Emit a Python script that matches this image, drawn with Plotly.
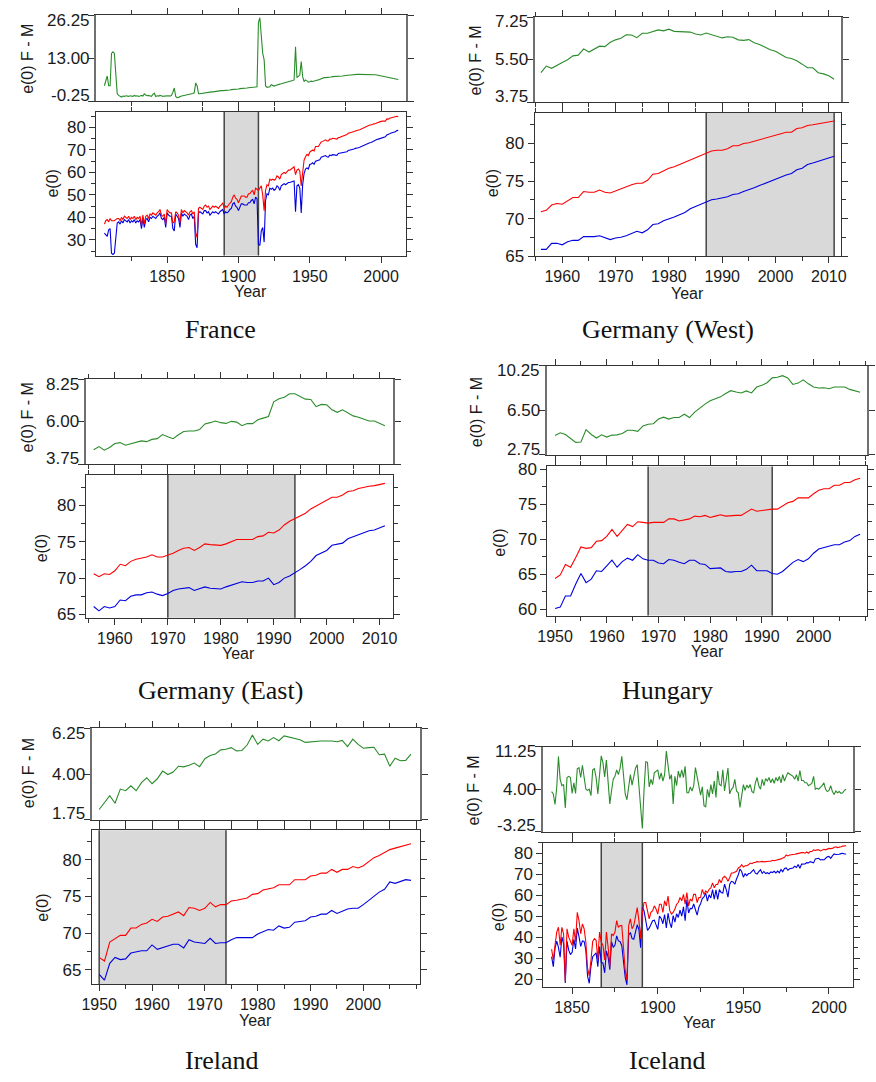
import math
import plotly.graph_objects as go

W, H = 876, 1082

# ---------------- DATA ----------------
# France
fr_start = 1806
fr_female = [37.0, 38.5, 39.0, 38.0, 39.5, 38.5, 38.5, 38.5, 39.0, 39.5,
             39.5, 38.5, 40.0, 39.0, 40.5, 40.0, 39.5, 40.5, 39.0, 40.0, 39.5, 40.5, 39.0, 40.0, 39.5,
             40.5, 36.5, 41.0, 37.0, 40.5, 41.0, 39.5, 41.5, 41.0, 42.0, 41.5, 41.0, 42.0, 42.5, 43.5, 41.0, 40.5, 41.5, 37.0,
             43.5, 42.5, 42.0, 42.0, 37.5, 38.0, 42.5, 42.0, 41.0, 37.5, 43.5, 42.0, 43.0, 42.5, 42.0, 41.0, 42.5, 43.0, 41.5, 42.5,
             33.0, 31.0, 44.0, 44.5, 44.0, 43.5, 45.0, 45.5, 44.5, 45.0, 43.5, 44.5, 45.0, 44.5, 45.0, 44.5, 44.0, 45.0, 45.5, 46.5,
             44.0, 45.0, 44.5, 45.5, 46.5, 47.0, 49.0, 50.0, 48.5, 48.0, 46.5, 48.5, 49.5, 49.5, 49.5, 49.0, 49.0, 50.5, 50.5, 51.5, 52.0, 50.0, 53.0, 52.5,
             52.0, 53.0, 54.0, 50.0, 43.0, 52.0, 54.5,
             54.0, 57.0, 56.5, 57.0, 56.5, 57.0, 58.5, 58.0, 57.0, 59.0, 59.5, 60.0, 59.5, 60.5, 61.0, 61.0, 61.5, 62.0, 62.5,
             59.0, 61.0, 61.5, 60.5, 54.0, 61.5, 65.5, 67.0, 68.0, 67.5,
             69.0, 69.5, 70.0, 69.5, 71.5, 71.5, 71.5, 72.5, 73.5, 73.8,
             74.0, 74.5, 74.0, 74.0, 74.8, 74.8, 75.2, 75.0, 75.0, 74.8,
             75.5, 75.5, 75.9, 76.1, 76.4, 76.7, 76.9, 77.4, 77.5, 77.8,
             78.0, 78.2, 78.5, 78.6, 78.9, 79.0, 79.3, 79.8, 80.0, 80.2,
             80.5, 80.8, 81.1, 81.1, 81.5, 81.6, 81.8, 82.1, 82.3, 82.4,
             82.7, 82.8, 82.9, 82.8, 83.8, 83.7, 84.1, 84.3, 84.3, 84.4,
             84.6, 85.0, 84.8]
fr_male = [33.0, 32.0, 31.5, 34.5, 35.0, 24.0, 23.5, 24.0, 31.0, 37.5,
           38.0, 37.0, 38.5, 37.5, 39.0, 38.5, 38.0, 39.0, 37.5, 38.5, 38.0, 39.0, 37.5, 38.5, 38.0,
           39.0, 35.0, 39.5, 35.5, 39.0, 39.5, 38.0, 40.0, 39.5, 40.5, 40.0, 39.5, 40.5, 41.0, 42.0, 39.5, 39.0, 40.0, 35.5,
           42.0, 41.0, 40.5, 40.5, 35.0, 34.0, 41.5, 40.5, 39.5, 35.5, 42.0, 40.5, 41.5, 41.0, 40.5, 39.0, 41.0, 41.5, 39.5, 40.5,
           28.0, 26.5, 42.0, 42.5, 42.0, 41.5, 43.0, 43.0, 42.0, 42.5, 41.0, 42.0, 42.5, 42.0, 42.5, 42.0, 41.5, 42.5, 43.0, 43.5,
           41.5, 42.5, 42.0, 42.5, 43.5, 44.0, 46.0, 46.5, 45.0, 44.5, 43.0, 45.0, 46.0, 46.0, 45.5, 45.5, 45.5, 46.5, 46.5, 47.5, 48.0, 46.0, 49.0, 48.3,
           28.0, 27.5, 34.0, 35.5, 29.0, 47.5, 50.5,
           50.0, 53.0, 52.5, 53.0, 52.0, 52.5, 54.0, 53.5, 52.0, 54.0, 54.5, 55.0, 54.5, 55.0, 55.5, 55.5, 55.8, 56.0, 56.2,
           42.5, 54.0, 54.5, 53.0, 42.0, 54.5, 59.5, 61.5, 62.0, 61.5,
           63.5, 63.7, 64.3, 63.6, 65.0, 65.2, 65.2, 65.6, 66.8, 67.0,
           67.0, 67.5, 67.0, 66.8, 67.7, 67.5, 67.9, 67.8, 67.8, 67.6,
           68.4, 68.5, 68.6, 68.7, 69.0, 69.0, 69.2, 69.7, 69.8, 70.1,
           70.2, 70.4, 70.7, 70.7, 71.0, 71.2, 71.5, 72.0, 72.3, 72.5,
           72.7, 72.9, 73.2, 73.3, 73.7, 73.9, 74.2, 74.6, 74.8, 75.0,
           75.3, 75.5, 75.7, 75.8, 76.7, 76.8, 77.2, 77.5, 77.6, 77.8,
           78.1, 78.6, 78.7]
fr_gap = [4.5, 6.0, 7.5, 4.5, 4.5, 14.5, 15.0, 14.5, 8.0, 2.0,
          1.5, 1.2, 1.0, 1.3, 1.2, 1.4, 1.3, 1.2, 1.4, 1.3, 1.2, 1.5, 1.3, 1.4, 1.2,
          1.3, 1.5, 1.3, 2.0, 1.6, 1.4, 1.5, 1.3, 1.2, 1.8, 2.2, 1.2, 1.4, 1.3, 1.5, 1.4, 1.2, 1.3, 1.4,
          1.5, 1.4, 1.3, 1.5, 2.5, 3.8, 1.2, 0.8, 0.9, 1.2, 1.3, 1.4, 1.5, 1.6, 1.5, 1.8, 1.9, 2.0, 2.1, 2.3,
          5.3, 4.5, 2.0, 2.0, 2.1, 2.2, 2.2, 2.3, 2.4, 2.5, 2.5, 2.6, 2.6, 2.7, 2.7, 2.8, 2.8, 2.9, 3.0, 3.0,
          3.0, 3.1, 3.1, 3.2, 3.2, 3.3, 3.3, 3.4, 3.4, 3.5, 3.5, 3.6, 3.6, 3.7, 3.7, 3.8, 3.8, 3.9, 3.9, 4.0, 4.0, 4.1, 4.1, 4.2,
          24.0, 25.5, 20.0, 14.5, 12.5, 4.5, 4.0,
          4.0, 4.2, 4.8, 4.5, 4.4, 4.6, 4.8, 5.0, 5.0, 5.1, 5.2, 5.3, 5.5, 5.6, 5.7, 5.8, 6.0, 6.1, 6.3,
          16.5, 7.0, 7.5, 7.8, 12.0, 7.3, 5.8, 6.3, 6.0, 5.6,
          5.7, 5.9, 5.8, 6.0, 6.1, 6.2, 6.3, 6.5, 6.6, 6.8,
          7.0, 7.0, 7.0, 7.1, 7.1, 7.2, 7.3, 7.3, 7.3, 7.3,
          7.3, 7.4, 7.4, 7.5, 7.6, 7.7, 7.7, 7.7, 7.8, 7.8,
          7.9, 8.0, 8.0, 8.0, 8.0, 8.0, 8.0, 8.0, 8.1, 8.1,
          8.1, 8.1, 8.1, 8.1, 8.0, 8.0, 7.9, 7.8, 7.7, 7.6,
          7.5, 7.4, 7.3, 7.2, 7.1, 7.0, 6.9, 6.8, 6.8, 6.7,
          6.6, 6.5, 6.4]
fr_shade = [1890, 1914]

# Germany (West)
gw_start = 1956
gw_female = [70.9, 71.1, 71.8, 72.0, 71.9, 72.4, 72.8, 72.8, 73.6, 73.5,
             73.5, 73.8, 73.5, 73.4, 73.7, 73.9, 74.2, 74.5, 74.7, 74.7,
             75.1, 75.9, 76.0, 76.4, 76.7, 76.9, 77.2, 77.5, 77.9, 78.2,
             78.4, 78.8, 79.0, 79.1, 79.1, 79.3, 79.7, 79.7, 80.0, 80.1,
             80.3, 80.6, 80.8, 81.0, 81.2, 81.4, 81.5, 81.5, 82.0, 82.1,
             82.4, 82.5, 82.6, 82.7, 82.8, 83.0]
gw_male = [65.9, 65.9, 66.7, 66.7, 66.5, 66.9, 67.1, 67.1, 67.6, 67.6,
           67.6, 67.7, 67.4, 67.2, 67.4, 67.5, 67.7, 68.0, 68.3, 68.1,
           68.5, 69.2, 69.3, 69.7, 69.9, 70.2, 70.5, 70.8, 71.3, 71.6,
           71.9, 72.2, 72.5, 72.6, 72.7, 72.9, 73.2, 73.3, 73.6, 73.8,
           74.1, 74.4, 74.7, 75.0, 75.3, 75.6, 75.8, 76.0, 76.5, 76.7,
           77.2, 77.4, 77.6, 77.8, 78.0, 78.3]
gw_gap = [4.96, 5.23, 5.14, 5.27, 5.38, 5.49, 5.65, 5.68, 5.94, 5.81,
          5.94, 6.05, 6.03, 6.21, 6.31, 6.38, 6.52, 6.51, 6.40, 6.58,
          6.58, 6.64, 6.72, 6.68, 6.75, 6.66, 6.64, 6.64, 6.63, 6.55,
          6.51, 6.59, 6.52, 6.46, 6.39, 6.44, 6.42, 6.31, 6.29, 6.32,
          6.19, 6.12, 6.01, 5.90, 5.84, 5.72, 5.58, 5.54, 5.45, 5.31,
          5.16, 5.16, 4.96, 4.91, 4.83, 4.69]
gw_shade = [1987, 2011]

# Germany (East)
ge_start = 1956
ge_female = [70.6, 70.2, 70.6, 70.5, 71.0, 71.9, 71.7, 72.3, 72.6, 72.7,
             72.9, 73.2, 72.9, 72.9, 73.1, 73.4, 73.8, 74.1, 74.2, 73.8,
             74.2, 74.7, 74.6, 74.6, 74.5, 74.7, 75.0, 75.3, 75.3, 75.3,
             75.3, 75.7, 75.8, 76.3, 76.2, 76.6, 77.3, 77.8, 78.2, 78.6,
             78.9, 79.5, 79.9, 80.4, 80.7, 81.1, 81.1, 81.4, 81.9, 82.0,
             82.3, 82.5, 82.6, 82.7, 82.8, 83.0]
ge_male = [66.1, 65.5, 66.1, 65.9, 66.1, 67.0, 66.9, 67.5, 67.7, 67.7,
           68.0, 68.1, 67.8, 67.6, 67.9, 68.3, 68.5, 68.6, 68.7, 68.3,
           68.6, 68.8, 68.6, 68.6, 68.5, 68.8, 69.0, 69.3, 69.5, 69.4,
           69.4, 69.6, 69.6, 70.0, 69.1, 69.4, 70.0, 70.3, 70.7, 71.2,
           71.7, 72.3, 73.1, 73.5, 73.8, 74.5, 74.6, 74.8, 75.4, 75.7,
           76.0, 76.3, 76.5, 76.6, 76.9, 77.2]
ge_gap = [4.52, 4.69, 4.50, 4.64, 4.85, 4.90, 4.76, 4.85, 4.92, 4.99,
          4.95, 5.07, 5.11, 5.33, 5.21, 5.11, 5.32, 5.49, 5.52, 5.52,
          5.59, 5.89, 5.96, 6.05, 5.96, 5.92, 6.03, 5.99, 5.80, 5.91,
          5.91, 6.11, 6.20, 6.29, 7.07, 7.23, 7.31, 7.50, 7.50, 7.36,
          7.21, 7.19, 6.81, 6.93, 6.91, 6.64, 6.51, 6.64, 6.50, 6.32,
          6.25, 6.17, 6.05, 6.05, 5.94, 5.80]
ge_shade = [1970, 1994]

# Hungary
hu_start = 1950
hu_female = [64.4, 64.9, 66.4, 66.0, 67.4, 68.9, 68.7, 68.8, 69.7, 69.8,
             70.4, 71.4, 70.4, 71.3, 72.1, 71.8, 72.5, 72.4, 72.3, 72.4,
             72.4, 72.4, 72.9, 72.9, 72.6, 72.7, 72.9, 73.3, 73.2, 73.4,
             73.1, 73.3, 73.5, 73.3, 73.4, 73.4, 73.4, 73.8, 74.3, 74.0,
             74.1, 74.3, 74.3, 74.3, 74.8, 75.2, 75.4, 75.9, 75.9, 75.9,
             76.5, 77.0, 77.2, 77.2, 77.7, 77.7, 78.1, 78.1, 78.5, 78.7]
hu_male = [60.1, 60.3, 61.9, 61.9, 63.6, 65.1, 63.8, 64.3, 65.5, 65.4,
           66.2, 67.0, 66.0, 66.8, 67.3, 67.0, 67.8, 67.2, 67.0, 67.0,
           66.6, 66.5, 67.1, 67.0, 66.7, 66.5, 67.0, 67.0, 66.5, 66.4,
           65.8, 65.8, 65.9, 65.4, 65.3, 65.4, 65.4, 65.7, 66.3, 65.5,
           65.5, 65.5, 65.1, 65.0, 65.4, 66.0, 66.7, 67.1, 66.8, 67.2,
           68.0, 68.6, 68.8, 68.9, 69.2, 69.2, 69.6, 69.8, 70.4, 70.7]
hu_gap = [4.38, 4.60, 4.46, 4.13, 3.80, 3.83, 4.87, 4.46, 4.16, 4.43,
          4.24, 4.41, 4.43, 4.54, 4.82, 4.82, 4.73, 5.18, 5.32, 5.37,
          5.76, 5.92, 5.76, 5.89, 5.89, 6.17, 5.89, 6.34, 6.72, 7.02,
          7.30, 7.47, 7.63, 7.91, 8.15, 8.04, 7.96, 8.13, 7.96, 8.46,
          8.60, 8.82, 9.23, 9.29, 9.42, 9.23, 8.68, 8.79, 9.06, 8.73,
          8.46, 8.38, 8.40, 8.32, 8.46, 8.46, 8.46, 8.26, 8.15, 8.02]
hu_shade = [1968, 1992]

# Ireland
ie_start = 1950
ie_female = [66.7, 66.2, 68.8, 69.3, 69.7, 69.7, 70.7, 70.7, 71.2, 71.4,
             71.9, 71.6, 72.2, 72.3, 72.6, 72.9, 72.4, 73.5, 73.4, 73.1,
             73.4, 74.2, 73.6, 73.9, 73.9, 74.4, 74.5, 74.6, 74.8, 75.3,
             75.4, 75.9, 76.1, 76.2, 76.6, 76.6, 76.6, 77.3, 77.3, 77.3,
             77.8, 77.9, 78.2, 78.2, 78.7, 78.3, 78.7, 78.7, 79.1, 78.9,
             79.2, 79.8, 80.3, 80.6, 81.0, 81.4, 81.6, 81.8, 82.0, 82.2]
ie_male = [64.4, 63.6, 65.9, 66.7, 66.4, 66.5, 67.3, 67.5, 67.6, 67.6,
           68.4, 67.8, 68.0, 68.3, 68.5, 68.5, 68.0, 69.1, 68.8, 68.7,
           68.6, 69.3, 68.6, 68.7, 68.7, 69.1, 69.4, 69.4, 69.4, 69.4,
           69.9, 70.2, 70.5, 70.4, 71.0, 70.7, 70.8, 71.5, 71.6, 71.7,
           72.2, 72.3, 72.6, 72.6, 73.1, 72.7, 73.0, 73.3, 73.4, 73.4,
           73.9, 74.5, 75.0, 75.6, 76.0, 77.0, 76.8, 77.1, 77.3, 77.2]
ie_gap = [2.25, 2.61, 2.93, 2.56, 3.26, 3.18, 3.42, 3.18, 3.58, 3.82,
          3.53, 3.77, 4.15, 3.98, 4.10, 4.39, 4.36, 4.44, 4.55, 4.37,
          4.76, 4.92, 5.00, 5.20, 5.23, 5.31, 5.15, 5.17, 5.44, 5.93,
          5.47, 5.73, 5.64, 5.81, 5.65, 5.89, 5.83, 5.76, 5.70, 5.57,
          5.60, 5.64, 5.64, 5.64, 5.64, 5.60, 5.67, 5.36, 5.73, 5.47,
          5.28, 5.31, 5.33, 4.96, 4.99, 4.39, 4.79, 4.66, 4.68, 4.99]
ie_shade = [1950, 1974]

# Iceland
is_start = 1838
is_female = [34.3, 29.1, 36.1, 42.4, 44.7, 36.1, 44.7, 41.6, 18.9, 44.0,
             40.0, 37.7, 36.1, 44.0, 37.7, 51.8, 47.9, 41.6, 46.3, 44.0,
             37.7, 25.2, 21.5, 29.1, 38.0, 39.3, 38.5, 29.1, 42.4, 37.7,
             36.1, 29.1, 42.4, 35.3, 26.0, 41.6, 40.8, 42.4, 47.9, 44.7,
             45.5, 45.5, 33.8, 24.0, 19.5, 45.5, 48.7, 44.0, 45.5, 50.2,
             54.1, 47.9, 39.3, 51.5, 56.5, 56.5, 51.8, 48.7, 51.8, 52.6,
             54.9, 53.4, 51.0, 55.7, 55.7, 51.8, 57.3, 54.9, 59.6, 52.6,
             51.0, 51.8, 53.4, 55.7, 56.5, 58.9, 57.3, 60.4, 55.7, 61.2,
             54.9, 58.1, 57.3, 60.4, 60.4, 56.5, 58.9, 58.9, 62.8, 60.4,
             62.0, 61.2, 62.8, 63.5, 65.9, 63.5, 65.1, 65.1, 67.5, 65.9,
             68.3, 69.0, 68.3, 66.7, 68.3, 70.6, 70.6, 70.9, 71.4, 73.0,
             73.4, 74.5, 73.4, 74.0, 74.0, 74.5, 75.3, 75.0, 75.6, 75.6,
             76.1, 75.8, 76.1, 76.1, 75.9, 76.1, 76.1, 76.2, 76.2, 76.6,
             76.4, 76.6, 76.9, 76.9, 77.3, 77.7, 78.1, 79.2, 78.7, 79.2,
             79.2, 79.2, 79.5, 79.7, 80.0, 80.0, 80.3, 80.3, 80.0, 80.6,
             80.0, 80.8, 80.8, 81.6, 81.3, 81.6, 81.6, 81.1, 81.6, 81.9,
             81.6, 81.9, 82.3, 82.2, 82.3, 82.8, 83.1, 82.7, 83.1, 83.1,
             83.4, 83.4, 83.6]
is_male = [30.7, 25.9, 34.7, 38.1, 35.1, 30.4, 40.1, 36.8, 18.1, 38.0,
           33.8, 31.7, 32.8, 38.9, 34.4, 44.3, 40.2, 35.6, 38.2, 38.0,
           33.7, 21.4, 18.0, 26.2, 30.7, 31.8, 32.5, 25.9, 35.5, 28.0,
           27.6, 23.0, 33.4, 30.5, 24.5, 37.9, 35.1, 36.2, 40.6, 38.2,
           37.9, 35.9, 28.1, 20.8, 17.3, 40.9, 42.2, 39.3, 39.0, 42.6,
           45.9, 43.6, 35.0, 54.2, 52.5, 47.8, 43.2, 44.3, 46.1, 47.8,
           48.1, 46.3, 43.7, 50.0, 48.9, 46.4, 50.8, 44.4, 51.4, 46.9,
           44.5, 50.3, 47.2, 51.1, 49.4, 52.9, 50.0, 54.4, 47.8, 57.8,
           51.5, 53.7, 53.6, 55.8, 52.7, 50.5, 54.3, 55.9, 58.4, 59.2,
           61.0, 57.2, 60.2, 58.7, 62.7, 58.1, 62.5, 58.0, 62.7, 61.3,
           61.0, 65.3, 62.6, 59.1, 65.1, 66.6, 66.3, 65.2, 67.7, 69.6,
           72.5, 71.3, 68.6, 70.2, 69.3, 70.3, 70.5, 71.4, 72.2, 70.5,
           70.1, 71.2, 72.1, 70.4, 71.3, 70.3, 70.7, 70.2, 71.1, 70.8,
           71.4, 70.6, 71.5, 70.7, 72.2, 71.2, 72.7, 73.0, 71.9, 72.6,
           72.8, 73.0, 73.8, 73.2, 74.6, 72.8, 74.8, 74.8, 74.9, 75.5,
           75.4, 76.0, 75.8, 75.4, 77.3, 77.4, 77.6, 76.8, 77.0, 76.8,
           77.6, 78.3, 78.5, 77.6, 78.7, 79.7, 79.4, 79.3, 79.5, 79.8,
           80.0, 79.6, 79.6]
is_gap = [3.6, 3.2, 1.4, 4.3, 9.6, 5.7, 4.6, 4.8, 0.8, 6.0,
          6.2, 6.0, 3.3, 5.1, 3.3, 7.5, 7.7, 6.0, 8.1, 6.0,
          4.0, 3.8, 4.0, 2.9, 7.3, 7.5, 6.0, 3.2, 6.9, 9.7,
          8.5, 6.1, 9.0, 4.8, 1.5, 3.7, 5.7, 6.2, 7.3, 6.5,
          7.6, 9.6, 5.7, 3.2, 2.2, 4.6, 6.5, 4.7, 6.5, 7.6,
          8.2, 4.3, 0.9, -2.7, 4.0, 8.7, 8.6, 4.4, 5.7, 4.8,
          6.8, 7.1, 7.3, 5.7, 6.8, 5.4, 6.5, 10.5, 8.2, 5.7,
          6.5, 1.5, 6.2, 4.6, 7.1, 6.0, 7.3, 6.0, 7.9, 3.4,
          3.4, 4.4, 3.7, 4.6, 7.7, 6.0, 4.6, 3.0, 4.4, 1.2,
          1.0, 4.0, 2.6, 4.8, 3.2, 5.4, 2.6, 7.1, 4.8, 4.6,
          7.3, 3.7, 5.7, 7.6, 3.2, 4.0, 4.3, 5.7, 3.7, 3.4,
          0.9, 3.2, 4.8, 3.8, 4.7, 4.2, 4.8, 3.6, 3.4, 5.1,
          6.0, 4.6, 4.0, 5.7, 4.6, 5.8, 5.4, 6.0, 5.1, 5.8,
          5.0, 6.0, 5.4, 6.2, 5.1, 6.5, 5.4, 6.2, 6.8, 6.6,
          6.4, 6.2, 5.7, 6.5, 5.4, 7.2, 5.5, 5.5, 5.1, 5.1,
          4.6, 4.8, 5.0, 6.2, 4.0, 4.2, 4.0, 4.3, 4.6, 5.1,
          4.0, 3.6, 3.8, 4.6, 3.6, 3.1, 3.7, 3.4, 3.6, 3.3,
          3.4, 3.8, 4.0]
is_shade = [1867, 1891]

country_names = ["France", "Germany (West)", "Germany (East)", "Hungary", "Ireland", "Iceland"]

# ---------------- LAYOUT / STYLE ----------------
# pixel boxes: x0, x1, top_y0, top_y1, bot_y0, bot_y1
panels = [
    dict(name=country_names[0], start=fr_start, f=fr_female, m=fr_male, g=fr_gap, shade=fr_shade,
         box=(88, 403, 9.3, 96.7, 107.3, 253.3), xr=(1800.4, 2017.2), xd=50, xm=25,
         gt=(-0.25, 13.0, 26.25), br=(23.0, 87.0), yd=10, ym=5,
         ylab1=(18, 54), ylab2=(43, 180), year=(245, 290), title=(214, 328)),
    dict(name=country_names[1], start=gw_start, f=gw_female, m=gw_male, g=gw_gap, shade=gw_shade,
         box=(534.3, 846, 11, 97.7, 108.3, 254), xr=(1954.8, 2012.2), xd=10, xm=5,
         gt=(3.75, 5.5, 7.25), br=(64.98, 84.1), yd=5, ym=2.5,
         ylab1=(474, 55), ylab2=(491, 180), year=(690, 292), title=(670, 328)),
    dict(name=country_names[2], start=ge_start, f=ge_female, m=ge_male, g=ge_gap, shade=ge_shade,
         box=(77.7, 390, 379, 465.3, 475.7, 621), xr=(1954.6, 2012.5), xd=10, xm=5,
         gt=(3.75, 6.0, 8.25), br=(64.55, 84.2), yd=5, ym=2.5,
         ylab1=(18, 418), ylab2=(32, 550), year=(233, 657), title=(214, 695)),
    dict(name=country_names[3], start=hu_start, f=hu_female, m=hu_male, g=hu_gap, shade=hu_shade,
         box=(547.3, 873.3, 365, 455.7, 467.3, 618.7), xr=(1948.5, 2010.4), xd=10, xm=5,
         gt=(2.75, 6.5, 10.25), br=(59.1, 80.4), yd=5, ym=2.5,
         ylab1=(476, 412), ylab2=(499, 545), year=(710, 655), title=(670, 695)),
    dict(name=country_names[4], start=ie_start, f=ie_female, m=ie_male, g=ie_gap, shade=ie_shade,
         box=(83.3, 417.3, 733.3, 826, 836.7, 992.7), xr=(1948.6, 2010.65), xd=10, xm=5,
         gt=(1.75, 4.0, 6.25), br=(63.07, 84.03), yd=5, ym=2.5,
         ylab1=(19, 779), ylab2=(33, 915), year=(250, 1030), title=(216, 1070)),
    dict(name=country_names[5], start=is_start, f=is_female, m=is_male, g=is_gap, shade=is_shade,
         box=(543.3, 858.3, 751.7, 838.3, 849.3, 996), xr=(1833.2, 2013.8), xd=50, xm=25,
         gt=(-3.25, 4.0, 11.25), br=(16.1, 85.0), yd=10, ym=5,
         ylab1=(472, 796), ylab2=(497, 925), year=(702, 1032), title=(670, 1070)),
]

AX = '#333333'
SANS = 'Liberation Sans, Arial, sans-serif'
XTICKFONT = dict(family=SANS, size=16, color='#1a1a1a')
YTICKFONT = dict(family=SANS, size=17, color='#1a1a1a')
RED, BLUE, GREEN = '#ff0000', '#0000e0', '#2a8c2a'


def ref(n, kind):
    return kind if n == 1 else f'{kind}{n}'


def base_axis(font):
    return dict(showline=True, linecolor=AX, linewidth=1, mirror='ticks', ticks='outside',
                ticklen=6, tickwidth=1, tickcolor=AX, showgrid=False, zeroline=False,
                tickfont=font)


fig = go.Figure()
shapes, annotations = [], []
layout = dict(width=W, height=H, margin=dict(l=0, r=0, t=0, b=0),
              paper_bgcolor='white', plot_bgcolor='white', showlegend=False)

for i, p in enumerate(panels):
    nt, nb = 2 * i + 1, 2 * i + 2
    x0, x1, ty0, ty1, by0, by1 = p['box']
    years = list(range(p['start'], p['start'] + len(p['f'])))
    gyears = list(range(p['start'], p['start'] + len(p['g'])))
    myears = list(range(p['start'], p['start'] + len(p['m'])))
    last_year = years[-1]

    first_major = int(math.ceil(p['xr'][0] / p['xd']) * p['xd'])
    majors = list(range(first_major, last_year + 1, p['xd']))

    xa_common = base_axis(XTICKFONT)
    xa_common.update(domain=[x0 / W, x1 / W], range=list(p['xr']), tickmode='array', tickvals=majors,
                     minor=dict(tickmode='linear', dtick=p['xm'], tick0=0, ticks='outside', ticklen=4,
                                tickcolor=AX, showgrid=False))
    xt = dict(xa_common, anchor=ref(nt, 'y'), showticklabels=False)
    xb = dict(xa_common, anchor=ref(nb, 'y'))

    lo, mid, hi = p['gt']
    pad = (hi - lo) * 0.002
    yt = base_axis(YTICKFONT)
    yt.update(domain=[1 - ty1 / H, 1 - ty0 / H], anchor=ref(nt, 'x'), range=[lo - pad, hi + pad],
              tickvals=[lo, mid, hi], showticklabels=False, linecolor='#707070', linewidth=2)
    yb = base_axis(YTICKFONT)
    yb.update(domain=[1 - by1 / H, 1 - by0 / H], anchor=ref(nb, 'x'), range=list(p['br']),
              dtick=p['yd'], tick0=0,
              minor=dict(dtick=p['ym'], tick0=0, ticks='outside', ticklen=4, tickcolor=AX, showgrid=False))

    layout['xaxis' if nt == 1 else f'xaxis{nt}'] = xt
    layout[f'xaxis{nb}'] = xb
    layout['yaxis' if nt == 1 else f'yaxis{nt}'] = yt
    layout[f'yaxis{nb}'] = yb

    fig.add_trace(go.Scatter(x=gyears, y=p['g'], mode='lines', line=dict(color=GREEN, width=1.1),
                             xaxis=ref(nt, 'x'), yaxis=ref(nt, 'y')))
    fig.add_trace(go.Scatter(x=myears, y=p['m'], mode='lines', line=dict(color=BLUE, width=1.1),
                             xaxis=ref(nb, 'x'), yaxis=ref(nb, 'y')))
    fig.add_trace(go.Scatter(x=years, y=p['f'], mode='lines', line=dict(color=RED, width=1.1),
                             xaxis=ref(nb, 'x'), yaxis=ref(nb, 'y')))

    s0, s1 = p['shade']
    shapes.append(dict(type='rect', xref=ref(nb, 'x'), yref=f'{ref(nb, "y")} domain',
                       x0=s0, x1=s1, y0=0, y1=1, fillcolor='#d9d9d9', line=dict(width=0), layer='below'))
    for sx in (s0, s1):
        shapes.append(dict(type='line', xref=ref(nb, 'x'), yref=f'{ref(nb, "y")} domain',
                           x0=sx, x1=sx, y0=0, y1=1, line=dict(color='#444444', width=1.5), layer='below'))

    # top-panel tick labels: end labels pulled inside the frame, as in the original
    for val, ypx in ((hi, ty0 + 5), (mid, (ty0 + ty1) / 2), (lo, ty1 - 6)):
        annotations.append(dict(text=f'{val:.2f}', x=(x0 - 6) / W, y=1 - ypx / H,
                                xref='paper', yref='paper', showarrow=False, borderpad=0,
                                xanchor='right', yanchor='middle', font=YTICKFONT))

    lab_font = dict(family=SANS, size=16, color='#1a1a1a')
    annotations.append(dict(text='e(0) F - M', x=p['ylab1'][0] / W, y=1 - p['ylab1'][1] / H,
                            xref='paper', yref='paper', showarrow=False, textangle=-90,
                            xanchor='center', yanchor='middle', font=lab_font))
    annotations.append(dict(text='e(0)', x=p['ylab2'][0] / W, y=1 - p['ylab2'][1] / H,
                            xref='paper', yref='paper', showarrow=False, textangle=-90,
                            xanchor='center', yanchor='middle', font=lab_font))
    annotations.append(dict(text='Year', x=p['year'][0] / W, y=1 - p['year'][1] / H,
                            xref='paper', yref='paper', showarrow=False,
                            xanchor='center', yanchor='middle', font=lab_font))
    annotations.append(dict(text=p['name'], x=p['title'][0] / W, y=1 - p['title'][1] / H,
                            xref='paper', yref='paper', showarrow=False,
                            xanchor='center', yanchor='middle',
                            font=dict(family='Liberation Serif, Times New Roman, serif', size=26, color='#111111')))

layout['shapes'] = shapes
layout['annotations'] = annotations
fig.update_layout(**layout)
fig.write_html("out.html", config={'displayModeBar': False},
               post_script="document.body.style.margin='0';document.body.style.overflow='hidden';")
